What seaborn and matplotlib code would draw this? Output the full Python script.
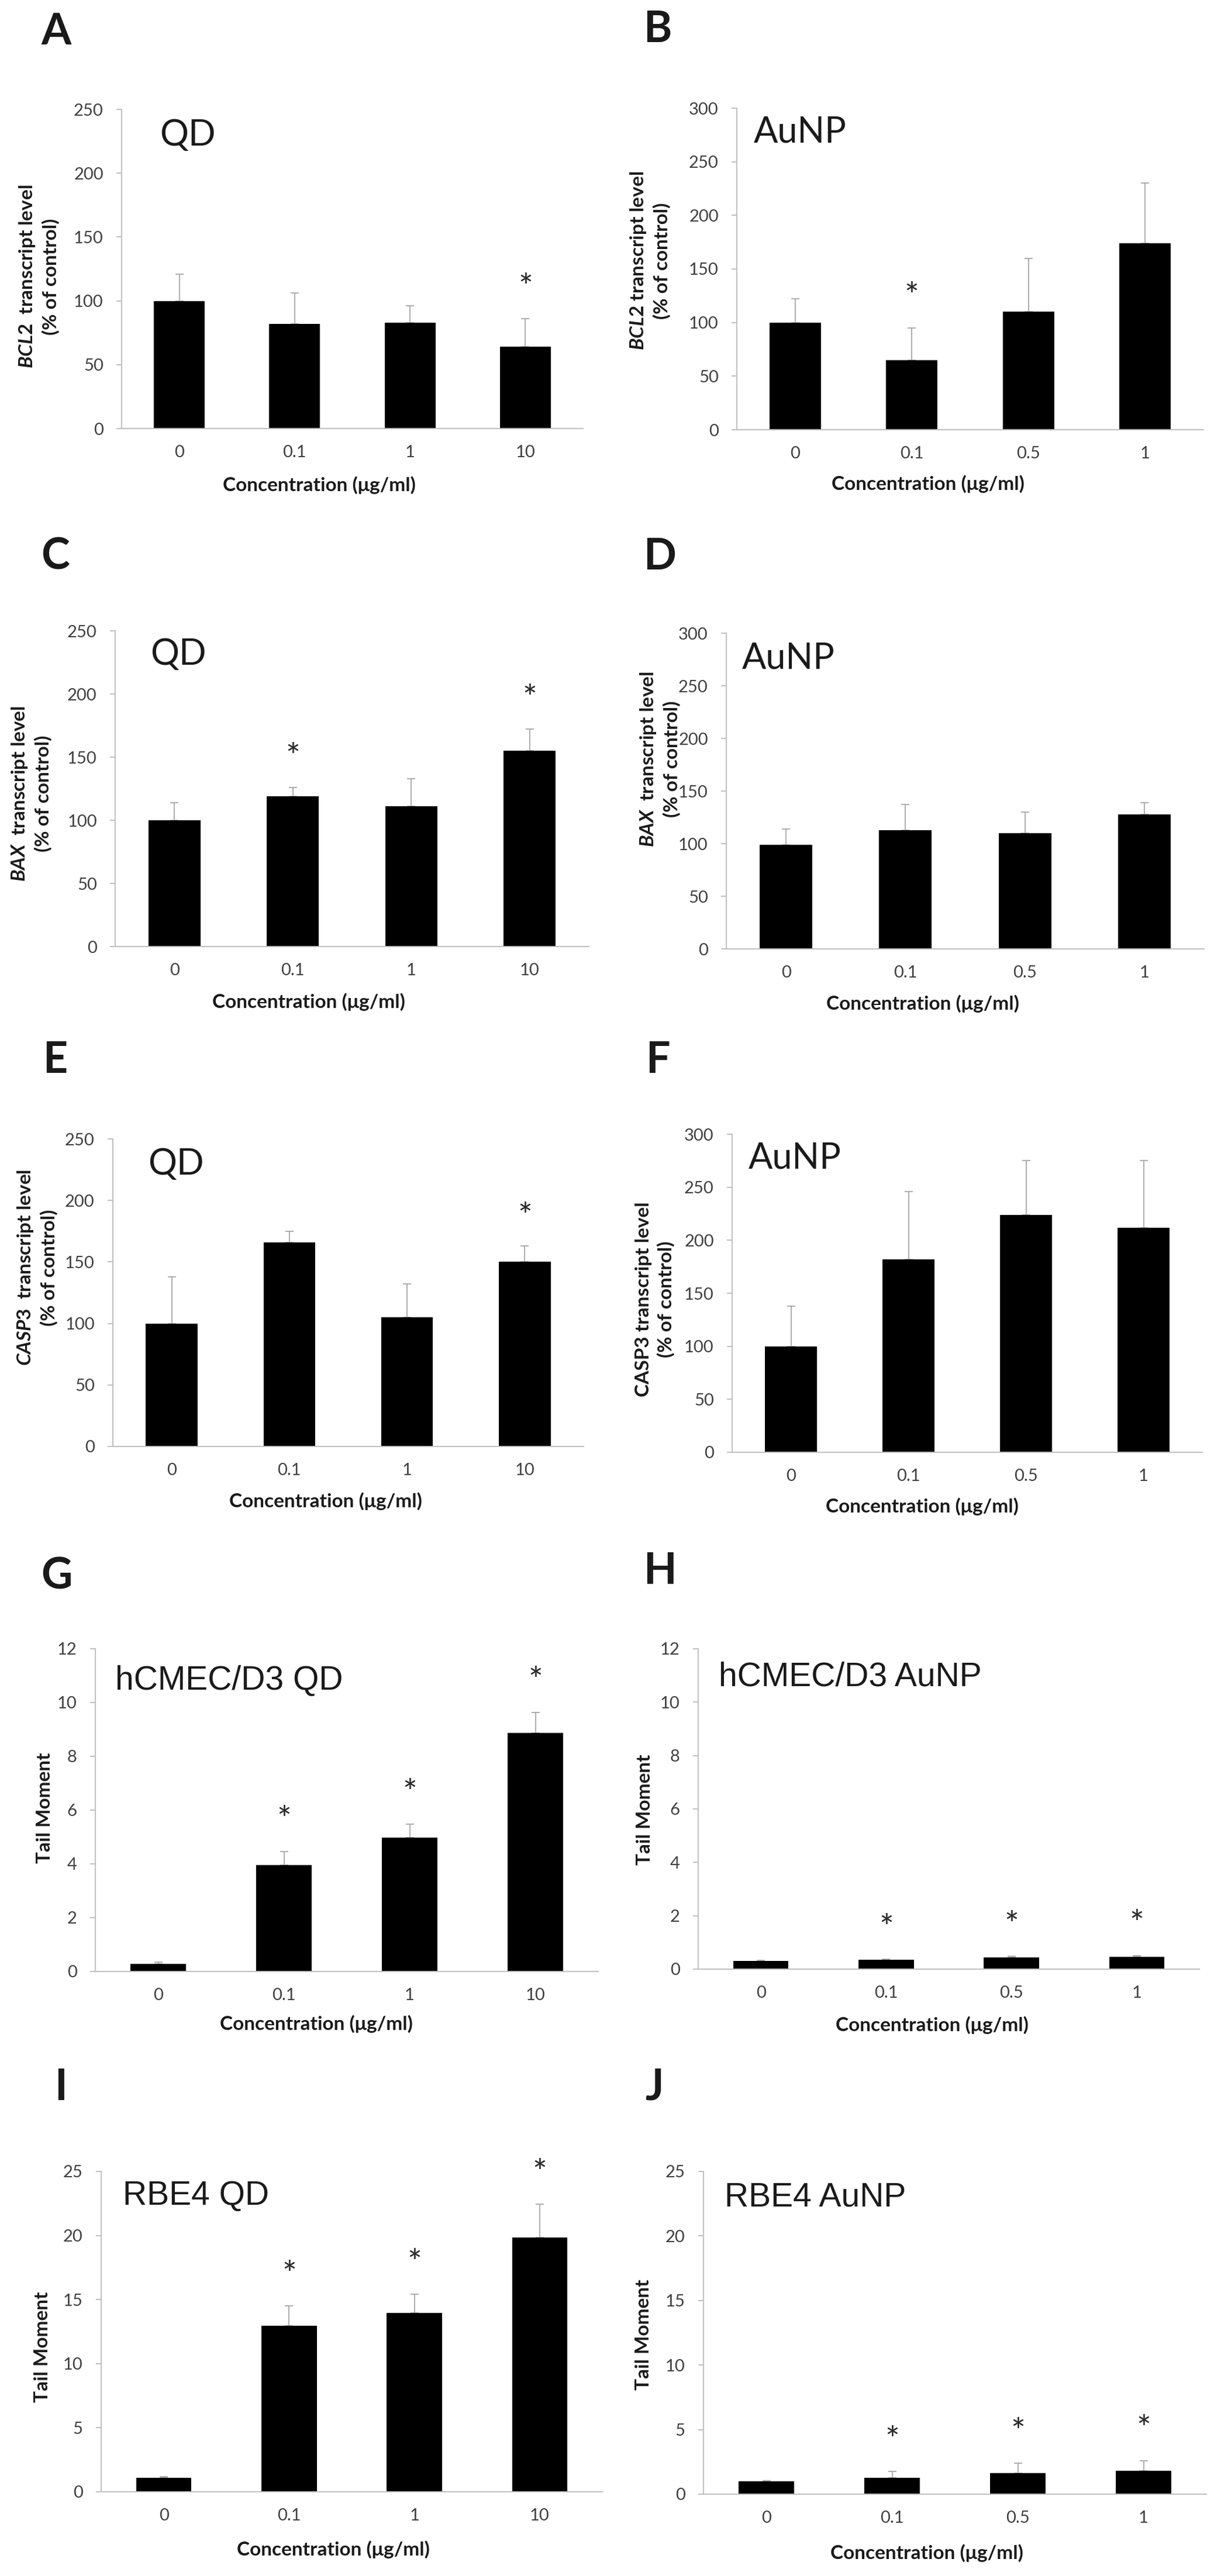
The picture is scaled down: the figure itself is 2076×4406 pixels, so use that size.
import numpy as np
import pandas as pd
import matplotlib
matplotlib.use("Agg")
import matplotlib.pyplot as plt
import seaborn as sns

# ==========================
# DATA
# ==========================
qd_conc = ["0", "0.1", "1", "10"]
aunp_conc = ["0", "0.1", "0.5", "1"]

bcl2_qd = [100, 82, 83, 64]
bcl2_qd_err = [21, 24, 13, 22]
bcl2_qd_sig = [0, 0, 0, 1]

bcl2_au = [100, 65, 110, 174]
bcl2_au_err = [22, 30, 50, 56]
bcl2_au_sig = [0, 1, 0, 0]

bax_qd = [100, 119, 111, 155]
bax_qd_err = [14, 7, 22, 17]
bax_qd_sig = [0, 1, 0, 1]

bax_au = [99, 113, 110, 128]
bax_au_err = [15, 24, 20, 11]
bax_au_sig = [0, 0, 0, 0]

casp3_qd = [100, 166, 105, 150]
casp3_qd_err = [38, 9, 27, 13]
casp3_qd_sig = [0, 0, 0, 1]

casp3_au = [100, 182, 224, 212]
casp3_au_err = [38, 64, 51, 63]
casp3_au_sig = [0, 0, 0, 0]

tm_hcmec_qd = [0.29, 3.96, 4.97, 8.87]
tm_hcmec_qd_err = [0.05, 0.5, 0.5, 0.77]
tm_hcmec_qd_sig = [0, 1, 1, 1]

tm_hcmec_au = [0.30, 0.34, 0.43, 0.46]
tm_hcmec_au_err = [0.03, 0.03, 0.05, 0.05]
tm_hcmec_au_sig = [0, 1, 1, 1]

tm_rbe4_qd = [1.08, 12.96, 13.97, 19.85]
tm_rbe4_qd_err = [0.1, 1.55, 1.45, 2.6]
tm_rbe4_qd_sig = [0, 1, 1, 1]

tm_rbe4_au = [0.98, 1.25, 1.63, 1.83]
tm_rbe4_au_err = [0.08, 0.5, 0.75, 0.75]
tm_rbe4_au_sig = [0, 1, 1, 1]

# ==========================
# STYLE
# ==========================
sns.set_theme(style="white")
plt.rcParams['font.family'] = ['Lato', 'DejaVu Sans']
plt.rcParams['mathtext.fontset'] = 'custom'
plt.rcParams['mathtext.it'] = 'Lato:italic:bold'
plt.rcParams['mathtext.rm'] = 'Lato:bold'

W, H = 2076, 4406
fig = plt.figure(figsize=(W / 100, H / 100), dpi=100)

SPINE = '#bfbfbf'
ERR = '#a6a6a6'
TICK_TXT = '#404040'
XLAB = "Concentration (\u03bcg/ml)"
STAR_SIZE = 42

# box = (left, right, top, zero) in pixels
panels = [
    dict(tag="A", box=(208, 997, 187, 733), cats=qd_conc, v=bcl2_qd, e=bcl2_qd_err, s=bcl2_qd_sig,
         ymax=250, step=50, ylab="$\\mathit{BCL2}$  transcript level\n(% of control)", yl=(66, 473),
         xl=(546, 830), letter=(70, 20), inset="QD", ins=(273, 203), arial=False),
    dict(tag="B", box=(1260, 2058, 185, 735), cats=aunp_conc, v=bcl2_au, e=bcl2_au_err, s=bcl2_au_sig,
         ymax=300, step=50, ylab="$\\mathit{BCL2}$ transcript level\n(% of control)", yl=(1111, 446),
         xl=(1587, 828), letter=(1100, 16), inset="AuNP", ins=(1289, 197), arial=False),
    dict(tag="C", box=(197, 1007, 1079, 1619), cats=qd_conc, v=bax_qd, e=bax_qd_err, s=bax_qd_sig,
         ymax=250, step=50, ylab="$\\mathit{BAX}$  transcript level\n(% of control)", yl=(53, 1357),
         xl=(528, 1714), letter=(70, 918), inset="QD", ins=(257, 1091), arial=False),
    dict(tag="D", box=(1242, 2059, 1083, 1623), cats=aunp_conc, v=bax_au, e=bax_au_err, s=bax_au_sig,
         ymax=300, step=50, ylab="$\\mathit{BAX}$  transcript level\n(% of control)", yl=(1128, 1298),
         xl=(1578, 1717), letter=(1100, 918), inset="AuNP", ins=(1269, 1097), arial=False),
    dict(tag="E", box=(193, 998, 1948, 2474), cats=qd_conc, v=casp3_qd, e=casp3_qd_err, s=casp3_qd_sig,
         ymax=250, step=50, ylab="$\\mathit{CASP3}$  transcript level\n(% of control)", yl=(63, 2168),
         xl=(557, 2568), letter=(73, 1779), inset="QD", ins=(253, 1963), arial=False),
    dict(tag="F", box=(1252, 2056, 1940, 2484), cats=aunp_conc, v=casp3_au, e=casp3_au_err, s=casp3_au_sig,
         ymax=300, step=50, ylab="CASP3 transcript level\n(% of control)", yl=(1120, 2222),
         xl=(1577, 2577), letter=(1104, 1779), inset="AuNP", ins=(1280, 1952), arial=False),
    dict(tag="G", box=(163, 1023, 2820, 3372), cats=qd_conc, v=tm_hcmec_qd, e=tm_hcmec_qd_err, s=tm_hcmec_qd_sig,
         ymax=12, step=2, ylab="Tail Moment", yl=(77, 3092),
         xl=(541, 3462), letter=(70, 2662), inset="hCMEC/D3 QD", ins=(197, 2848), arial=True),
    dict(tag="H", box=(1194, 2051, 2820, 3368), cats=aunp_conc, v=tm_hcmec_au, e=tm_hcmec_au_err, s=tm_hcmec_au_sig,
         ymax=12, step=2, ylab="Tail Moment", yl=(1103, 3095),
         xl=(1594, 3464), letter=(1100, 2653), inset="hCMEC/D3 AuNP", ins=(1229, 2842), arial=True),
    dict(tag="I", box=(173, 1030, 3714, 4262), cats=qd_conc, v=tm_rbe4_qd, e=tm_rbe4_qd_err, s=tm_rbe4_qd_sig,
         ymax=25, step=5, ylab="Tail Moment", yl=(72, 4014),
         xl=(570, 4361), letter=(93, 3536), inset="RBE4 QD", ins=(210, 3729), arial=True),
    dict(tag="J", box=(1203, 2063, 3714, 4266), cats=aunp_conc, v=tm_rbe4_au, e=tm_rbe4_au_err, s=tm_rbe4_au_sig,
         ymax=25, step=5, ylab="Tail Moment", yl=(1100, 3993),
         xl=(1585, 4367), letter=(1103, 3536), inset="RBE4 AuNP", ins=(1239, 3732), arial=True),
]

for p in panels:
    L, R, T, Z = p['box']
    ax = fig.add_axes([L / W, 1 - Z / H, (R - L) / W, (Z - T) / H])
    df = pd.DataFrame({'conc': p['cats'], 'val': p['v']})
    sns.barplot(data=df, x='conc', y='val', order=p['cats'], color='black', saturation=1,
                width=0.44, errorbar=None, linewidth=0, ax=ax)
    x = np.arange(len(p['cats']))
    ax.errorbar(x, p['v'], yerr=[np.zeros(len(x)), p['e']], fmt='none', ecolor=ERR,
                elinewidth=1.3, capsize=5, capthick=1.3, zorder=0.5)
    # significance stars: glyph centre sits a fixed fraction of the axis above the error bar
    for i, (v, e, s) in enumerate(zip(p['v'], p['e'], p['s'])):
        if s:
            ax.annotate("*", xy=(i, v + e + 0.125 * p['ymax']), xytext=(0, -0.57 * STAR_SIZE),
                        textcoords='offset points', ha='center', va='baseline',
                        fontsize=STAR_SIZE, color='#262626', annotation_clip=False)

    ax.set_xlim(-0.5, len(x) - 0.5)
    ax.set_ylim(0, p['ymax'])
    ax.set_yticks(np.arange(0, p['ymax'] + 0.001, p['step']))
    for side in ['top', 'right']:
        ax.spines[side].set_visible(False)
    for side in ['left', 'bottom']:
        ax.spines[side].set_color(SPINE)
        ax.spines[side].set_linewidth(1.4)
    ax.tick_params(axis='y', left=True, length=6.5, width=1.4, color=SPINE, direction='out',
                   labelsize=21, labelcolor=TICK_TXT, pad=16)
    ax.tick_params(axis='x', bottom=False, length=0, labelsize=21, labelcolor=TICK_TXT, pad=20)

    wpx, hpx = R - L, Z - T
    ax.set_xlabel(XLAB, fontsize=24, fontweight='bold', color='#1a1a1a')
    ax.xaxis.set_label_coords((p['xl'][0] - L) / wpx, (Z - p['xl'][1]) / hpx)
    ax.xaxis.label.set_va('center')
    ax.set_ylabel(p['ylab'], fontsize=24, fontweight='bold', color='#1a1a1a', linespacing=1.3)
    ax.yaxis.set_label_coords((p['yl'][0] - L) / wpx, (Z - p['yl'][1]) / hpx)
    ax.yaxis.label.set_va('center')

    fam = ['Liberation Sans', 'DejaVu Sans'] if p['arial'] else ['Lato', 'DejaVu Sans']
    ax.text((p['ins'][0] - L) / wpx, (Z - p['ins'][1]) / hpx, p['inset'], transform=ax.transAxes,
            ha='left', va='top', fontsize=41 if p['arial'] else 44, family=fam, color='#1a1a1a')

    fig.text(p['letter'][0] / W, 1 - p['letter'][1] / H, p['tag'], ha='left', va='top',
             fontsize=53, fontweight='bold', color='#1a1a1a')

fig.savefig("out.png", dpi=100, facecolor='white')
